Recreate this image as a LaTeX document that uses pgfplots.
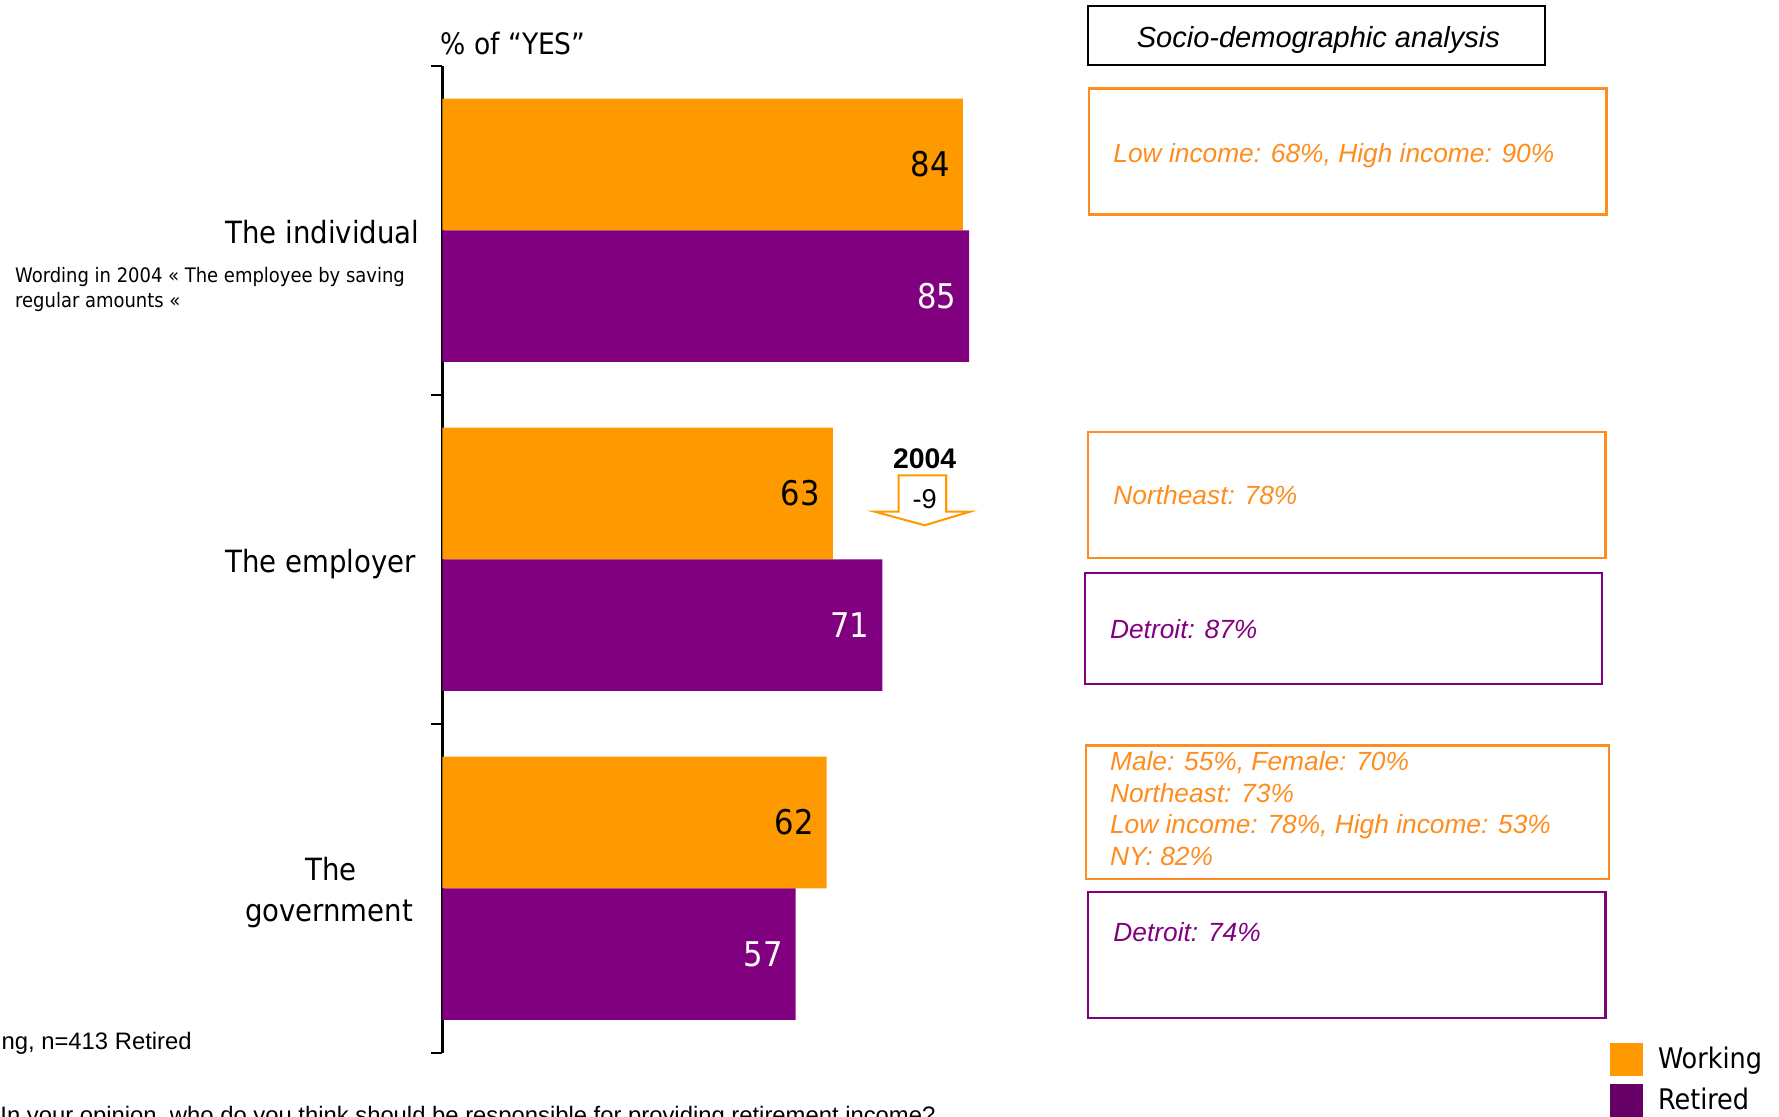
\documentclass[border=0pt]{standalone}
\usepackage{pgfplots}
\pgfplotsset{compat=1.18}
\usepackage{fontspec}
\setmainfont{Liberation Sans}
\newfontfamily\tah{DejaVu Sans Condensed}
\definecolor{barorange}{HTML}{FF9900}
\definecolor{barpurple}{HTML}{800080}
\definecolor{legpurple}{HTML}{660066}
\definecolor{txtorange}{HTML}{FF8C1E}
\begin{document}
\begin{tikzpicture}
\useasboundingbox (0,0) rectangle (784pt,492pt);
\clip (0,0) rectangle (784pt,492pt);
\begin{axis}[
  at={(195pt,28pt)}, anchor=south west,
  scale only axis, width=273pt, height=435pt,
  xmin=0, xmax=100, ymin=-0.5, ymax=2.5,
  axis x line=none, axis y line*=left,
  axis line style={line width=1pt, black, -},
  ytick={-0.5,0.5,1.5,2.5}, yticklabels={},
  tick align=outside, major tick length=5pt,
  ytick style={line width=1pt, black},
  /pgf/number format/assume math mode=true,
  clip=false,
  legend image code/.code={\fill[#1] (0pt,-7.25pt) rectangle (14.5pt,7.25pt);},
  legend style={at={(1.8846,0.0103)}, anchor=north west, draw=none, fill=none,
    inner sep=0pt, row sep=3.5pt, column sep=6.5pt,
    font=\tah\fontsize{12.5pt}{15pt}\selectfont, nodes={inner sep=0pt}},
  legend cell align=left,
]
\addplot[xbar, bar shift=0pt, bar width=58pt, fill=barorange, draw=none, forget plot,
  nodes near coords,
  every node near coord/.append style={anchor=east, xshift=-5.5pt, inner sep=0pt, black,
    font=\tah\fontsize{15pt}{18pt}\selectfont}]
  coordinates {(84,2.2) (63,1.2) (62,0.2)};
\addplot[xbar, bar shift=0pt, bar width=58pt, fill=barpurple, draw=none, forget plot,
  nodes near coords,
  every node near coord/.append style={anchor=east, xshift=-5.5pt, inner sep=0pt, white,
    font=\tah\fontsize{15pt}{18pt}\selectfont}]
  coordinates {(85,1.8) (71,0.8) (57,-0.2)};
\addlegendimage{fill=barorange, draw=none}
\addlegendentry{Working}
\addlegendimage{fill=legpurple, draw=none}
\addlegendentry{Retired}
\end{axis}
\begin{scope}[x=0.5pt, y=-0.5pt, yshift=492pt]
  % category labels
  \node[anchor=east, inner sep=0, font=\tah\fontsize{13.5pt}{16pt}\selectfont] at (370,205) {The individual};
  \node[anchor=east, inner sep=0, font=\tah\fontsize{13.5pt}{16pt}\selectfont] at (367,497) {The employer};
  \node[anchor=base, inner sep=0, font=\tah\fontsize{13.5pt}{16pt}\selectfont] at (292,776) {The};
  \node[anchor=base, inner sep=0, font=\tah\fontsize{13.5pt}{16pt}\selectfont] at (290,812) {government};
  \node[anchor=west, inner sep=0, font=\tah\fontsize{13pt}{15pt}\selectfont] at (388,38) {\% of “YES”};
  \node[anchor=base west, inner sep=0, font=\tah\fontsize{8.8pt}{10pt}\selectfont] at (13,249) {Wording in 2004 « The employee by saving};
  \node[anchor=base west, inner sep=0, font=\tah\fontsize{8.8pt}{10pt}\selectfont] at (13,271) {regular amounts «};
  \node[anchor=base west, inner sep=0, font=\fontsize{10.5pt}{12pt}\selectfont] at (1,925) {ng, n=413 Retired};
  \node[anchor=base west, inner sep=0, font=\fontsize{10.5pt}{12pt}\selectfont] at (0,990) {In your opinion, who do you think should be responsible for providing retirement income?};
  % 2004 arrow
  \draw[barorange, line width=0.9pt, fill=white] (792,419) -- (834,419) -- (834,451) -- (855,451) -- (815,463) -- (771,451) -- (792,451) -- cycle;
  \node[inner sep=0, font=\bfseries\fontsize{12.5pt}{15pt}\selectfont] at (815,404) {2004};
  \node[inner sep=0, font=\fontsize{12pt}{14pt}\selectfont] at (815,440) {-9};
  % right boxes
  \draw[line width=1pt] (959,5) rectangle (1362,57);
  \node[inner sep=0, font=\itshape\fontsize{12.8pt}{15pt}\selectfont] at (1162,35) {Socio-demographic analysis};
  \draw[txtorange, line width=1pt] (960,78) rectangle (1416,189);
  \node[anchor=base west, inner sep=0, txtorange, font=\itshape\fontsize{11.6pt}{14pt}\selectfont] at (981,143) {Low income: 68\%, High income: 90\%};
  \draw[txtorange, line width=1pt] (959,381) rectangle (1415,492);
  \node[anchor=base west, inner sep=0, txtorange, font=\itshape\fontsize{11.6pt}{14pt}\selectfont] at (981,445) {Northeast: 78\%};
  \draw[barpurple, line width=1pt] (956,505) rectangle (1412,603);
  \node[anchor=base west, inner sep=0, barpurple, font=\itshape\fontsize{11.6pt}{14pt}\selectfont] at (978,563) {Detroit: 87\%};
  \draw[txtorange, line width=1pt] (957,657) rectangle (1418,775);
  \node[anchor=base west, inner sep=0, txtorange, font=\itshape\fontsize{11.6pt}{14pt}\selectfont] at (978,679) {Male: 55\%, Female: 70\%};
  \node[anchor=base west, inner sep=0, txtorange, font=\itshape\fontsize{11.6pt}{14pt}\selectfont] at (978,707) {Northeast: 73\%};
  \node[anchor=base west, inner sep=0, txtorange, font=\itshape\fontsize{11.6pt}{14pt}\selectfont] at (978,735) {Low income: 78\%, High income: 53\%};
  \node[anchor=base west, inner sep=0, txtorange, font=\itshape\fontsize{11.6pt}{14pt}\selectfont] at (978,763) {NY: 82\%};
  \draw[barpurple, line width=1pt] (959,786) rectangle (1415,897);
  \node[anchor=base west, inner sep=0, barpurple, font=\itshape\fontsize{11.6pt}{14pt}\selectfont] at (981,830) {Detroit: 74\%};
\end{scope}
\end{tikzpicture}
\end{document}
